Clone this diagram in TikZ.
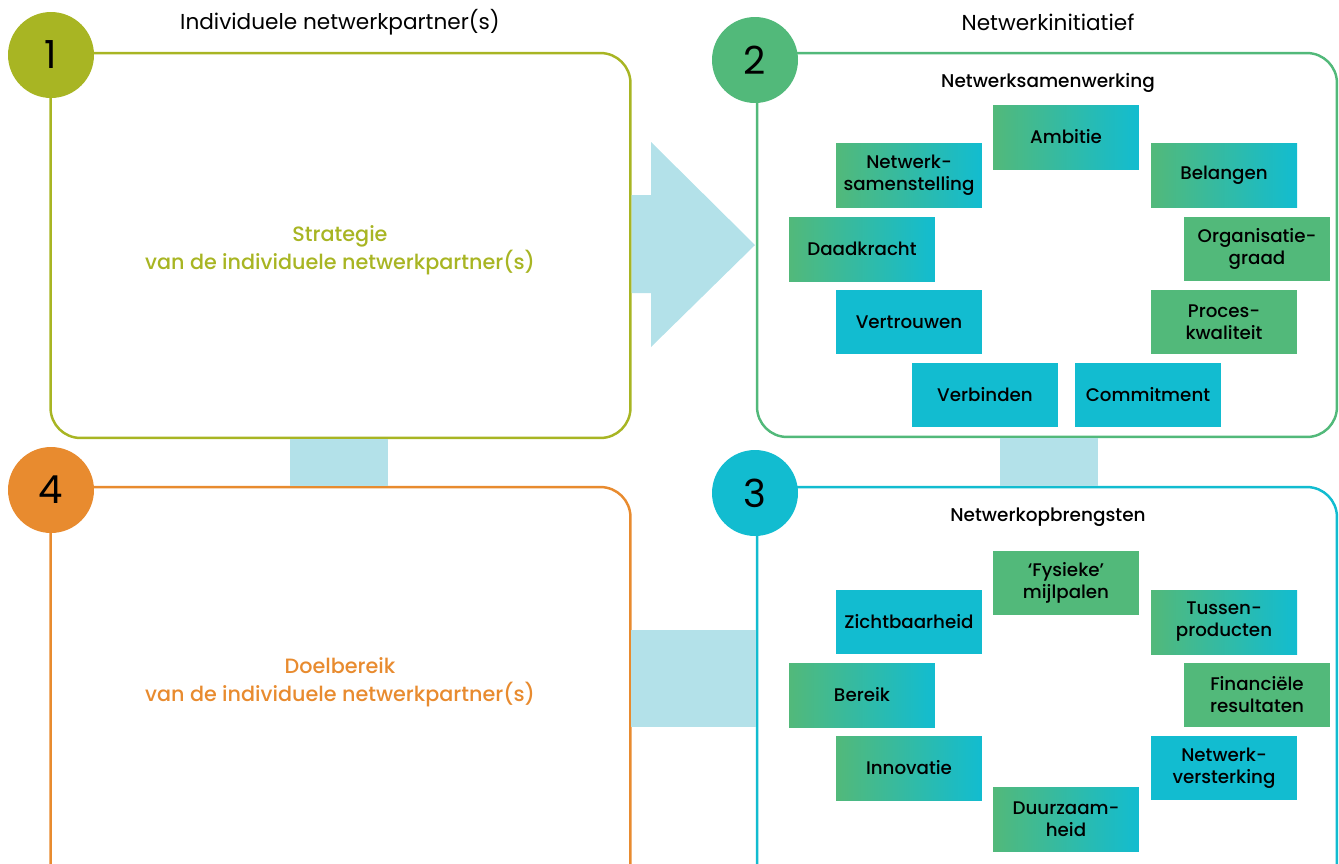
\documentclass[tikz,border=0pt]{standalone}
\usepackage{fontspec}
\setmainfont{Poppins}
\newfontfamily\medium{Poppins Medium}
\usetikzlibrary{calc}
\definecolor{olijf}{HTML}{A8B523}
\definecolor{groen}{HTML}{52B97A}
\definecolor{cyaan}{HTML}{12BCD0}
\definecolor{oranje}{HTML}{E88B2F}
\definecolor{lichtblauw}{HTML}{B3E1E9}
\tikzset{
  panel/.style={rectangle, draw, line width=1.4pt, rounded corners=0.6cm,
    minimum width=11.6cm, inner sep=0},
  nummer/.style={circle, minimum size=1.72cm, inner sep=0,
    font=\fontsize{22}{22}\selectfont},
  kop/.style={font=\fontsize{12.3}{14}\selectfont},
  subkop/.style={font=\medium\fontsize{10.5}{12}\selectfont},
  blok/.style={rectangle, minimum width=2.92cm, minimum height=1.28cm,
    inner sep=0, align=center, font=\medium\fontsize{10.4}{12.5}\selectfont},
  grad/.style={blok, left color=groen, right color=cyaan},
  groenblok/.style={blok, fill=groen},
  cyaanblok/.style={blok, fill=cyaan},
  link/.style={fill=lichtblauw},
  hoofdtekst/.style={align=center, font=\medium\fontsize{11.8}{16}\selectfont}
}
\begin{document}
\begin{tikzpicture}[x=0.02cm, y=-0.02cm]
    \clip (0,0) rectangle (1339,863);
    \useasboundingbox (0,0) rectangle (1339,863);

    % Panels
    \node [panel, olijf, minimum height=7.7cm] (p1) at (340.5,245.5) {};
    \node [panel, groen, minimum height=7.68cm] (p2) at (1047,245) {};
    \node [panel, cyaan, minimum height=9cm] (p3) at (1047,712) {};
    \node [panel, oranje, minimum height=9cm] (p4) at (340.5,712) {};

    % Links between panels
    \fill [link] ($(p1.south west)+(241,0)$) rectangle ($(p4.north west)+(339,0)$);
    \fill [link] ($(p2.south west)+(244,0)$) rectangle ($(p3.north west)+(342,0)$);
    \fill [link] (631,630) rectangle (756,727);
    \fill [link] (p1.east |- 0,195) -- (651,195) -- (651,142) -- (755,245)
        -- (651,347) -- (651,293) -- (p1.east |- 0,293) -- cycle;

    % Numbers
    \node [nummer, fill=olijf] (n1) at (51,55) {1};
    \node [nummer, fill=groen] (n2) at (755,60) {2};
    \node [nummer, fill=cyaan] (n3) at (755,493) {3};
    \node [nummer, fill=oranje] (n4) at (51,490) {4};

    % Titles
    \node [kop] (t1) at (340,22) {Individuele netwerkpartner(s)};
    \node [kop] (t2) at (1048,22) {Netwerkinitiatief};
    \node [subkop] (s2) at (1048,83) {Netwerksamenwerking};
    \node [subkop] (s3) at (1048,517) {Netwerkopbrengsten};

    \node [hoofdtekst, olijf] (strategie) at (340,250) {Strategie\\van de individuele netwerkpartner(s)};
    \node [hoofdtekst, oranje] (doel) at (340,682) {Doelbereik\\van de individuele netwerkpartner(s)};

    % Netwerksamenwerking
    \node [grad] (ambitie) at (1066,137) {Ambitie};
    \node [grad] (samenst) at (909,175) {Netwerk-\\samenstelling};
    \node [grad] (belangen) at (1224,175) {Belangen};
    \node [grad] (daadkr) at (862,249) {Daadkracht};
    \node [groenblok] (organ) at (1257,249) {Organisatie-\\graad};
    \node [cyaanblok] (vertrouwen) at (909,322) {Vertrouwen};
    \node [groenblok] (proces) at (1224,322) {Proces-\\kwaliteit};
    \node [cyaanblok] (verbinden) at (985,395) {Verbinden};
    \node [cyaanblok] (commitment) at (1148,395) {Commitment};

    % Netwerkopbrengsten
    \node [groenblok] (mijlpalen) at (1066,583) {‘Fysieke’\\mijlpalen};
    \node [cyaanblok] (zicht) at (909,622) {Zichtbaarheid};
    \node [grad] (tussen) at (1224,622) {Tussen-\\producten};
    \node [grad] (bereik) at (862,695) {Bereik};
    \node [groenblok] (financ) at (1257,695) {Financiële\\resultaten};
    \node [grad] (innovatie) at (909,768) {Innovatie};
    \node [cyaanblok] (versterk) at (1224,768) {Netwerk-\\versterking};
    \node [grad] (duurzaam) at (1066,819) {Duurzaam-\\heid};

\end{tikzpicture}
\end{document}
